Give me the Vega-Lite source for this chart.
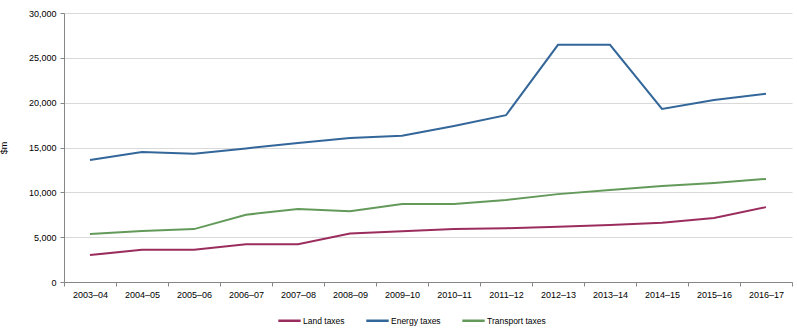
{
  "$schema": "https://vega.github.io/schema/vega-lite/v6.json",
  "width": 728,
  "height": 269,
  "autosize": {"type": "none"},
  "padding": {"left": 64, "right": 5, "top": 13, "bottom": 54},
  "background": "white",
  "config": {
    "font": "Liberation Sans",
    "view": {"stroke": null},
    "axis": {"labelFont": "Liberation Sans", "labelFontSize": 9, "labelColor": "#000000", "titleFont": "Liberation Sans", "titleFontSize": 9, "titleFontWeight": "normal", "titleColor": "#000000"}
  },
  "data": {
    "values": [
      {"year": "2003–04", "series": "Land taxes", "value": 3000},
      {"year": "2004–05", "series": "Land taxes", "value": 3600},
      {"year": "2005–06", "series": "Land taxes", "value": 3600},
      {"year": "2006–07", "series": "Land taxes", "value": 4200},
      {"year": "2007–08", "series": "Land taxes", "value": 4200},
      {"year": "2008–09", "series": "Land taxes", "value": 5400},
      {"year": "2009–10", "series": "Land taxes", "value": 5650},
      {"year": "2010–11", "series": "Land taxes", "value": 5900},
      {"year": "2011–12", "series": "Land taxes", "value": 6000},
      {"year": "2012–13", "series": "Land taxes", "value": 6150},
      {"year": "2013–14", "series": "Land taxes", "value": 6350},
      {"year": "2014–15", "series": "Land taxes", "value": 6600},
      {"year": "2015–16", "series": "Land taxes", "value": 7150},
      {"year": "2016–17", "series": "Land taxes", "value": 8350},
      {"year": "2003–04", "series": "Energy taxes", "value": 13600},
      {"year": "2004–05", "series": "Energy taxes", "value": 14500},
      {"year": "2005–06", "series": "Energy taxes", "value": 14300},
      {"year": "2006–07", "series": "Energy taxes", "value": 14900},
      {"year": "2007–08", "series": "Energy taxes", "value": 15500},
      {"year": "2008–09", "series": "Energy taxes", "value": 16050},
      {"year": "2009–10", "series": "Energy taxes", "value": 16300},
      {"year": "2010–11", "series": "Energy taxes", "value": 17400},
      {"year": "2011–12", "series": "Energy taxes", "value": 18600},
      {"year": "2012–13", "series": "Energy taxes", "value": 26450},
      {"year": "2013–14", "series": "Energy taxes", "value": 26450},
      {"year": "2014–15", "series": "Energy taxes", "value": 19300},
      {"year": "2015–16", "series": "Energy taxes", "value": 20300},
      {"year": "2016–17", "series": "Energy taxes", "value": 21000},
      {"year": "2003–04", "series": "Transport taxes", "value": 5350},
      {"year": "2004–05", "series": "Transport taxes", "value": 5700},
      {"year": "2005–06", "series": "Transport taxes", "value": 5900},
      {"year": "2006–07", "series": "Transport taxes", "value": 7500},
      {"year": "2007–08", "series": "Transport taxes", "value": 8150},
      {"year": "2008–09", "series": "Transport taxes", "value": 7900},
      {"year": "2009–10", "series": "Transport taxes", "value": 8700},
      {"year": "2010–11", "series": "Transport taxes", "value": 8700},
      {"year": "2011–12", "series": "Transport taxes", "value": 9150},
      {"year": "2012–13", "series": "Transport taxes", "value": 9800},
      {"year": "2013–14", "series": "Transport taxes", "value": 10250},
      {"year": "2014–15", "series": "Transport taxes", "value": 10700},
      {"year": "2015–16", "series": "Transport taxes", "value": 11050},
      {"year": "2016–17", "series": "Transport taxes", "value": 11500}
    ]
  },
  "mark": {"type": "line", "strokeWidth": 2},
  "encoding": {
    "x": {
      "field": "year", "type": "nominal", "sort": null, "title": null,
      "scale": {"type": "band", "paddingInner": 0, "paddingOuter": 0},
      "axis": {"labelAngle": 0, "tickBand": "extent", "domainColor": "#868686", "tickColor": "#868686", "tickSize": 4, "labelPadding": 4, "grid": false}
    },
    "y": {
      "field": "value", "type": "quantitative", "title": "$m",
      "scale": {"domain": [0, 30000], "nice": false},
      "axis": {"values": [0, 5000, 10000, 15000, 20000, 25000, 30000], "format": ",.0f", "gridColor": "#D9D9D9", "domain": true, "domainColor": "#868686", "tickColor": "#868686", "tickSize": 4, "labelPadding": 4, "titlePadding": 20}
    },
    "color": {
      "field": "series", "type": "nominal", "title": null,
      "scale": {"domain": ["Land taxes", "Energy taxes", "Transport taxes"], "range": ["#9B2D5E", "#336699", "#639A5A"]},
      "legend": {"orient": "none", "legendX": 213, "legendY": 295, "direction": "horizontal", "symbolType": "stroke", "symbolStrokeWidth": 2.5, "symbolSize": 500, "labelFontSize": 8.5, "labelFont": "Liberation Sans", "labelColor": "#000000", "columnPadding": 16, "labelOffset": 1}
    }
  }
}
